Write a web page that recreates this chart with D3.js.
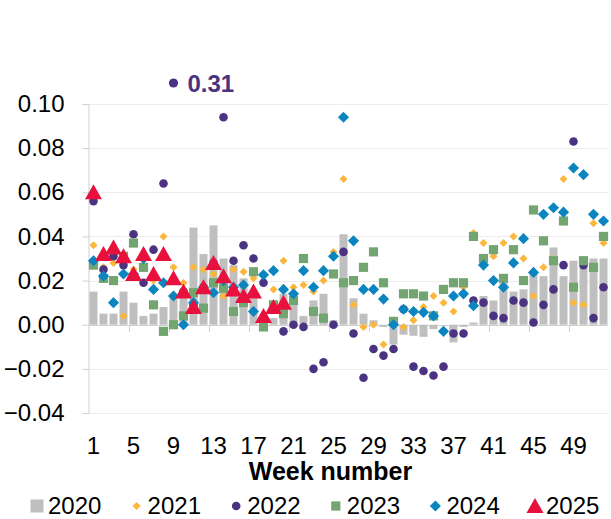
<!DOCTYPE html>
<html><head><meta charset="utf-8">
<script src="https://cdn.jsdelivr.net/npm/d3@7"></script>
<style>
body{margin:0;background:#fff;}
text{font-family:Arial,"Liberation Sans",sans-serif;fill:#000;}
</style>
</head><body>
<svg id="c" width="611" height="519"></svg>
<script>
const weeks = [1,2,3,4,5,6,7,8,9,10,11,12,13,14,15,16,17,18,19,20,21,22,23,24,25,26,
  27,28,29,30,31,32,33,34,35,36,37,38,39,40,41,42,43,44,45,46,47,48,49,50,51,52];
const tickWeeks = [1,5,9,13,17,21,25,29,33,37,41,45,49];
const yTicks = [-0.04,-0.02,0,0.02,0.04,0.06,0.08,0.10];
const years = ["2020","2021","2022","2023","2024","2025"];

const s2020 = [0.015,0.005,0.005,0.015,0.010,0.004,0.005,0.008,0.012,0.016,0.044,0.032,0.045,
  0.030,0.027,0.021,0.012,0.005,0.003,0.014,0.014,0.004,0.011,0.014,0.002,0.041,
  0.012,0.005,0.002,-0.001,-0.009,-0.0045,-0.005,-0.0055,-0.002,0.000,-0.008,-0.001,0.001,
  0.013,0.011,0.019,0.015,0.016,0.023,0.022,0.035,0.022,0.029,0.030,0.030,0.030];
const s2021 = [0.036,0.026,0.028,0.004,0.025,0.030,0.020,0.040,0.026,0.019,0.026,0.025,0.023,
  0.013,0.025,0.024,0.021,0.019,0.016,0.029,0.017,0.018,0.015,0.020,0.033,0.066,
  0.009,-0.001,0.000,-0.009,0.002,-0.001,0.002,0.008,0.013,0.010,0.006,0.017,0.0415,
  0.037,0.031,0.037,0.040,0.030,0.013,0.026,0.030,0.066,0.010,0.009,0.046,0.037];
const s2022 = [0.056,0.025,0.031,0.027,0.041,0.019,0.034,0.064,0.31,0.015,0.009,0.017,0.028,
  0.094,0.029,0.036,0.030,0.019,0.008,-0.003,0.000,-0.001,-0.020,-0.017,0.000,0.033,
  -0.004,-0.024,-0.011,-0.014,-0.011,0.007,-0.019,-0.021,-0.023,-0.019,-0.004,-0.004,0.011,
  0.010,0.004,0.003,0.011,0.010,0.001,0.009,0.016,0.027,0.083,0.027,0.003,0.017];
const s2023 = [0.027,0.021,0.020,0.031,0.037,0.026,0.009,-0.003,0.000,0.004,0.0145,0.0075,0.019,
  0.0165,0.006,0.010,0.024,-0.001,0.009,0.005,0.011,0.030,0.006,0.003,0.023,0.019,
  0.020,0.026,0.033,0.019,0.0015,0.014,0.014,0.013,0.004,0.016,0.019,0.019,0.040,
  0.030,0.034,0.021,0.034,0.020,0.052,0.038,0.029,0.047,0.017,0.029,0.026,0.040];
const s2024 = [0.029,0.022,0.010,0.023,0.023,0.030,0.016,0.019,0.013,0.000,0.010,0.017,0.0145,
  0.020,0.017,0.018,0.006,0.0226,0.0245,0.016,0.014,0.0245,0.017,0.0245,0.031,0.094,
  0.038,0.016,0.016,0.0116,0.000,0.007,0.006,0.0056,0.004,-0.003,0.013,0.014,0.0086,
  0.027,0.020,0.017,0.028,0.039,0.0237,0.050,0.053,0.051,0.071,0.068,0.050,0.047];
const s2025 = [0.060,0.032,0.035,0.031,0.023,0.032,0.023,0.032,0.021,0.015,0.008,0.017,0.028,
  0.022,0.016,0.013,0.015,0.004,0.008,0.010];

const colors = {bar:"#bfbfbf", y2021:"#fbb63c", y2022:"#4b3381", y2023:"#72a56f", y2024:"#0a85c0", y2025:"#e8103c"};

const svg = d3.select("#c");
const x = d3.scaleBand().domain(weeks).range([88.5, 608.5]).paddingInner(0.2).paddingOuter(0.1);
const step = x.step();
const cx = w => x(w) + x.bandwidth()/2;
const yMin = -0.04, yMax = 0.10;
const y = d3.scaleLinear().domain([yMin, yMax]).range([413, 104]);

// gridlines
svg.append("g").selectAll("line").data(yTicks).join("line")
  .attr("x1", 88).attr("x2", 608.5)
  .attr("y1", d => Math.round(y(d)) + 0.5).attr("y2", d => Math.round(y(d)) + 0.5)
  .attr("stroke", d => d === 0 ? "#d0d0d0" : "#ececec").attr("stroke-width", 1);

// y axis
const yAxis = d3.axisLeft(y).tickValues(yTicks).tickFormat(d3.format(".2f")).tickSize(6).tickPadding(18);
const gy = svg.append("g").attr("transform", "translate(88.5,0)").call(yAxis);
gy.select(".domain").attr("stroke", "#d0d0d0");
gy.selectAll(".tick line").attr("stroke", "#d0d0d0");
gy.selectAll(".tick text").attr("font-size", 24).attr("font-family", "Arial, 'Liberation Sans', sans-serif").attr("fill", "#000");

// x axis ticks at category boundaries
const boundaryWeeks = tickWeeks.slice(1);
svg.append("g").selectAll("line").data(boundaryWeeks).join("line")
  .attr("x1", d => Math.round(x(d) - (step - x.bandwidth())/2) + 0.5)
  .attr("x2", d => Math.round(x(d) - (step - x.bandwidth())/2) + 0.5)
  .attr("y1", Math.round(y(0))).attr("y2", Math.round(y(0)) + 7)
  .attr("stroke", "#d0d0d0");

// bars 2020
svg.append("g").selectAll("rect").data(weeks).join("rect")
  .attr("x", (d) => x(d))
  .attr("width", x.bandwidth())
  .attr("y", (d,i) => y(Math.max(0, s2020[i])))
  .attr("height", (d,i) => Math.abs(y(s2020[i]) - y(0)))
  .attr("fill", colors.bar);

// x labels
const xAxis = d3.axisBottom(x).tickValues(tickWeeks).tickSize(0).tickPadding(0);
const gx = svg.append("g").attr("transform", "translate(0,454)").call(xAxis);
gx.select(".domain").remove();
gx.selectAll(".tick text").attr("font-size", 24).attr("dy", 0)
  .attr("font-family", "Arial, 'Liberation Sans', sans-serif").attr("fill", "#000");

svg.append("text").attr("x", 330.5).attr("y", 480).attr("text-anchor", "middle")
  .attr("font-size", 25).attr("font-weight", "bold").text("Week number");

const diamond = (size) => d3.symbol().type(d3.symbolSquare).size(size)();
const triPath = "M0,-8L8.5,7L-8.5,7Z";
const sqSize = 84, smallDia = 32, bigDia = 62, circR = 4.3;

// 2021
svg.append("g").selectAll("path").data(s2021).join("path")
  .attr("d", diamond(smallDia))
  .attr("transform", (d,i) => `translate(${cx(weeks[i])},${y(d)}) rotate(45)`)
  .attr("fill", colors.y2021);

// 2022
const g22 = svg.append("g");
g22.selectAll("circle").data(s2022).join("circle")
  .attr("cx", (d,i) => cx(weeks[i]))
  .attr("cy", d => d > yMax ? y(yMax) - 21 : y(d))
  .attr("r", d => d > yMax ? 4.6 : circR)
  .attr("fill", colors.y2022);
g22.selectAll("text").data(s2022.map((d,i) => ({d, w: weeks[i]})).filter(o => o.d > yMax)).join("text")
  .attr("x", o => cx(o.w) + 14).attr("y", y(yMax) - 21 + 8.5)
  .attr("font-size", 24).attr("font-weight", "bold").style("fill", colors.y2022)
  .text(o => d3.format(".2f")(o.d));

// 2023
svg.append("g").selectAll("path").data(s2023).join("path")
  .attr("d", d3.symbol().type(d3.symbolSquare).size(sqSize)())
  .attr("transform", (d,i) => `translate(${cx(weeks[i])},${y(d)})`)
  .attr("fill", colors.y2023);

// 2024
svg.append("g").selectAll("path").data(s2024).join("path")
  .attr("d", diamond(bigDia))
  .attr("transform", (d,i) => `translate(${cx(weeks[i])},${y(d)}) rotate(45)`)
  .attr("fill", colors.y2024);

// 2025
svg.append("g").selectAll("path").data(s2025).join("path")
  .attr("d", triPath)
  .attr("transform", (d,i) => `translate(${cx(weeks[i])},${y(d)})`)
  .attr("fill", colors.y2025);

// legend
const legY = 506;
const legX0 = 37, legStep = 99.6;
const lg = svg.append("g");
years.forEach((yr, i) => {
  const mx = legX0 + i*legStep;
  if (i === 0) lg.append("rect").attr("x", mx-6.5).attr("y", legY-6.5).attr("width", 13).attr("height", 13).attr("fill", colors.bar);
  if (i === 1) lg.append("path").attr("d", diamond(smallDia)).attr("transform", `translate(${mx},${legY}) rotate(45)`).attr("fill", colors.y2021);
  if (i === 2) lg.append("circle").attr("cx", mx).attr("cy", legY).attr("r", circR).attr("fill", colors.y2022);
  if (i === 3) lg.append("path").attr("d", d3.symbol().type(d3.symbolSquare).size(sqSize)()).attr("transform", `translate(${mx},${legY})`).attr("fill", colors.y2023);
  if (i === 4) lg.append("path").attr("d", diamond(bigDia)).attr("transform", `translate(${mx},${legY}) rotate(45)`).attr("fill", colors.y2024);
  if (i === 5) lg.append("path").attr("d", triPath).attr("transform", `translate(${mx},${legY})`).attr("fill", colors.y2025);
  lg.append("text").attr("x", mx + 11).attr("y", 514).attr("font-size", 24).text(yr);
});
</script>
</body></html>
